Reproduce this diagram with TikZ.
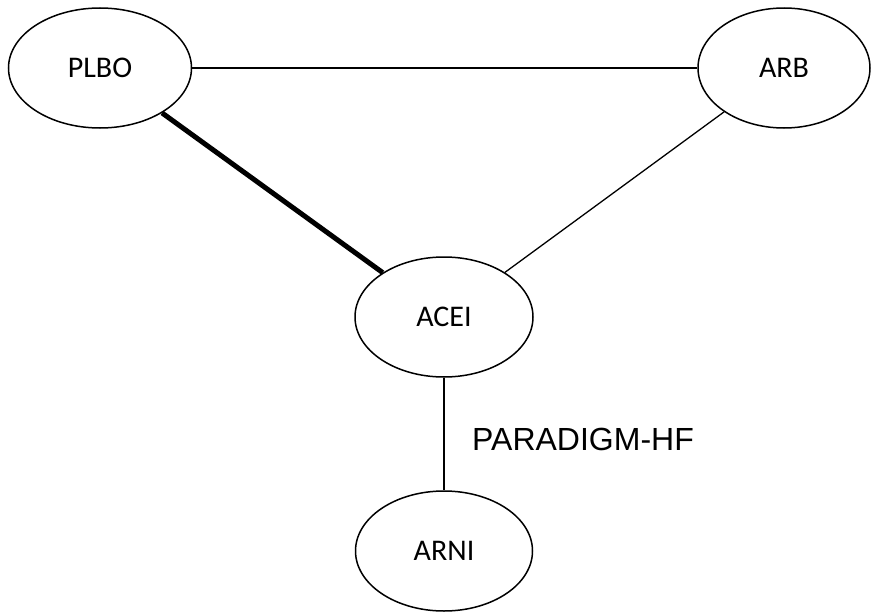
\documentclass[tikz,border=0pt]{standalone}
\usepackage{fontspec}
\setmainfont{Carlito}
\newfontfamily\arialfont{Liberation Sans}
\usetikzlibrary{shapes.geometric, positioning}
\tikzstyle{drug}=[draw,ellipse,fill=white,line width=1.5pt,inner sep=0pt,minimum height=120pt,font=\fontsize{30}{36}\selectfont]
\tikzstyle{link}=[line width=1.3pt]
\tikzstyle{trial}=[font=\arialfont\fontsize{32}{38}\selectfont,inner sep=0pt]

\begin{document}
\begin{tikzpicture}[x=1pt,y=-1pt]
    \useasboundingbox (0,0) rectangle (871,613);
    \node[drug, minimum width=183pt] (plbo) at (100,68) {PLBO};
    \node[drug, minimum width=172pt, right of=plbo, node distance=684pt] (arb) {ARB};
    \node[drug, minimum width=178pt] (acei) at (444,317) {ACEI};
    \node[drug, minimum width=177pt, below of=acei, node distance=234pt] (arni) {ARNI};
    \node[trial, anchor=west] (trial) at (472,439) {PARADIGM-HF};
    \draw[link] (plbo) -- (arb);
    \draw[link, line width=5pt] (plbo) -- (acei);
    \draw[link] (arb) -- (acei);
    \draw[link] (acei) -- (arni);
\end{tikzpicture}
\end{document}
